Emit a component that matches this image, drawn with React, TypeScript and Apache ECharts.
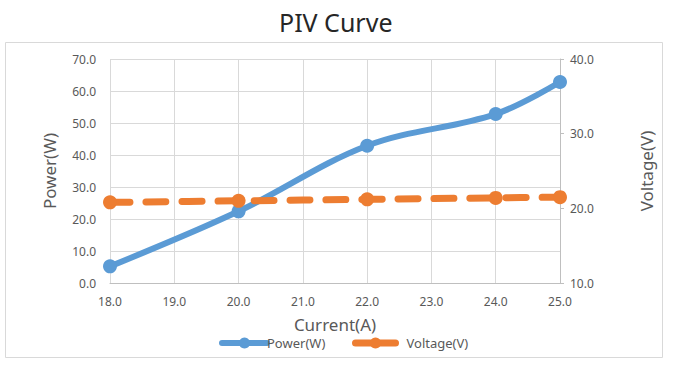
import React, { useEffect, useRef } from "react";
import * as echarts from "echarts";

const currents = [18, 20, 22, 24, 25];
const powerValues = [5.2, 22.4, 42.9, 52.8, 62.8];
const voltageValues = [20.8, 21.0, 21.2, 21.4, 21.5];

const xTicks = { min: 18, max: 25, interval: 1 };
const leftTicks = { min: 0, max: 70, interval: 10 };
const rightTicks = { min: 10, max: 40, interval: 10 };

const FONT = "Noto Sans";
const TXT = "#595959";

export default function App() {
  const ref = useRef<HTMLDivElement>(null);
  useEffect(() => {
    const chart = echarts.init(ref.current!, null, { renderer: "svg" });
    const powerData = currents.map((c, i) => [c, powerValues[i]]);
    const voltData = currents.map((c, i) => [c, voltageValues[i]]);
    const fmt = (v: number) => v.toFixed(1);
    chart.setOption({
      animation: false,
      backgroundColor: "#ffffff",
      textStyle: { fontFamily: FONT },
      title: {
        text: "PIV Curve",
        left: 274,
        top: 4,
        textStyle: { fontFamily: FONT, fontSize: 25, fontWeight: "normal", color: "#262626" },
      },
      graphic: [
        {
          type: "rect",
          shape: { x: 5.5, y: 42.5, width: 657, height: 315 },
          style: { fill: "none", stroke: "#d9d9d9", lineWidth: 1 },
          silent: true,
        },
      ],
      grid: { left: 110, right: 116, top: 59, bottom: 87, containLabel: false },
      legend: [
        {
          data: ["Power(W)"],
          left: 219,
          top: 336,
          padding: 0,
          itemWidth: 45,
          itemHeight: 14,
          itemGap: 3,
          lineStyle: { width: 6 },
          textStyle: { fontFamily: FONT, fontSize: 13, lineHeight: 14, color: TXT, padding: [0, 0, 0, -5] },
        },
        {
          data: ["Voltage(V)"],
          left: 352,
          top: 336,
          padding: 0,
          itemWidth: 40,
          itemHeight: 14,
          lineStyle: { width: 7, type: "solid" },
          textStyle: { fontFamily: FONT, fontSize: 13, lineHeight: 14, color: TXT, padding: [0, 0, 0, 6] },
        },
      ],
      xAxis: {
        type: "value",
        min: xTicks.min,
        max: xTicks.max,
        interval: xTicks.interval,
        name: "Current(A)",
        nameLocation: "middle",
        nameGap: 32,
        nameTextStyle: { fontFamily: FONT, fontSize: 17, lineHeight: 18, color: TXT },
        axisLine: { show: true, lineStyle: { color: "#bfbfbf" } },
        axisTick: { show: false },
        axisLabel: { formatter: fmt, color: TXT, fontSize: 12, fontFamily: FONT, margin: 12 },
        splitLine: { show: true, lineStyle: { color: "#d9d9d9" } },
      },
      yAxis: [
        {
          type: "value",
          min: leftTicks.min,
          max: leftTicks.max,
          interval: leftTicks.interval,
          name: "Power(W)",
          nameLocation: "middle",
          nameGap: 52,
          nameTextStyle: { fontFamily: FONT, fontSize: 17, color: TXT },
          axisLine: { show: false },
          axisTick: { show: false },
          axisLabel: { formatter: fmt, color: TXT, fontSize: 12, fontFamily: FONT, margin: 14 },
          splitLine: { show: true, lineStyle: { color: "#d9d9d9" } },
        },
        {
          type: "value",
          position: "right",
          min: rightTicks.min,
          max: rightTicks.max,
          interval: rightTicks.interval,
          name: "Voltage(V)",
          nameLocation: "middle",
          nameGap: 78,
          nameRotate: 90,
          nameTextStyle: { fontFamily: FONT, fontSize: 17, color: TXT },
          axisLine: { show: true, lineStyle: { color: "#bfbfbf" } },
          axisTick: { show: true, length: 4, lineStyle: { color: "#bfbfbf" } },
          axisLabel: { formatter: fmt, color: TXT, fontSize: 12, fontFamily: FONT, margin: 10 },
          splitLine: { show: false },
        },
      ],
      series: [
        {
          name: "Power(W)",
          type: "line",
          yAxisIndex: 0,
          data: powerData,
          smooth: 0.35,
          symbol: "circle",
          symbolSize: 14,
          lineStyle: { color: "#5b9bd5", width: 6, cap: "round" },
          itemStyle: { color: "#5b9bd5" },
          z: 3,
        },
        {
          name: "Voltage(V)",
          type: "line",
          yAxisIndex: 1,
          data: voltData,
          smooth: 0.35,
          symbol: "circle",
          symbolSize: 14,
          lineStyle: { color: "#ed7d31", width: 7, type: [20, 16], cap: "round" },
          itemStyle: { color: "#ed7d31" },
          z: 4,
        },
      ],
    });
    return () => chart.dispose();
  }, []);
  return (
    <div
      ref={ref}
      style={{ position: "fixed", left: 0, top: 0, width: 676, height: 370 }}
    />
  );
}
